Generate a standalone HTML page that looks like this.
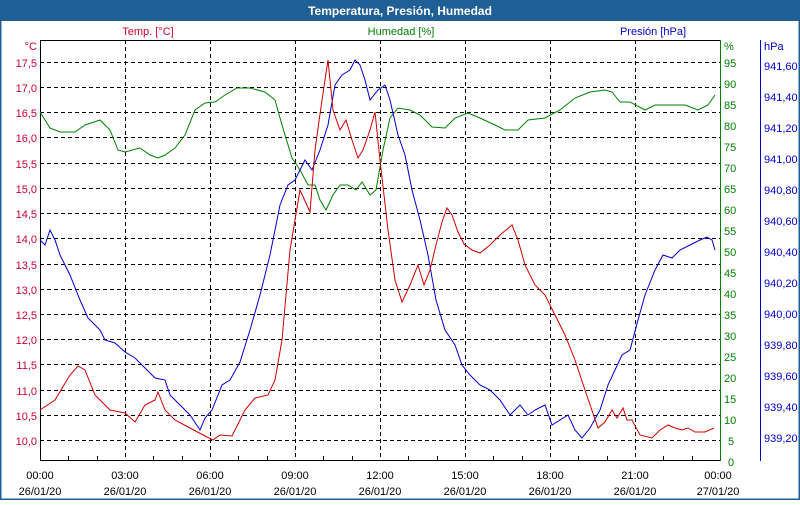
<!DOCTYPE html><html><head><meta charset="utf-8"><style>
body{margin:0;width:800px;height:500px;overflow:hidden;background:#fff;font-family:"Liberation Sans",sans-serif}
</style></head><body>
<svg width="800" height="500" xmlns="http://www.w3.org/2000/svg" font-family="Liberation Sans, sans-serif" font-size="11">
<rect x="0" y="0" width="800" height="500" fill="#fff"/>
<rect x="0.5" y="0.5" width="799" height="499" fill="none" stroke="#1f5f96" stroke-width="2"/>
<rect x="0" y="0" width="800" height="21" fill="#1f5f96"/>
<text x="400" y="15" text-anchor="middle" fill="#fff" font-weight="bold" font-size="12">Temperatura, Presión, Humedad</text>
<g stroke="#000" stroke-dasharray="4,3" stroke-width="1">
<line x1="40" x2="720" y1="62.5" y2="62.5"/><line x1="40" x2="720" y1="87.5" y2="87.5"/><line x1="40" x2="720" y1="112.5" y2="112.5"/><line x1="40" x2="720" y1="137.5" y2="137.5"/><line x1="40" x2="720" y1="163.5" y2="163.5"/><line x1="40" x2="720" y1="188.5" y2="188.5"/><line x1="40" x2="720" y1="213.5" y2="213.5"/><line x1="40" x2="720" y1="238.5" y2="238.5"/><line x1="40" x2="720" y1="264.5" y2="264.5"/><line x1="40" x2="720" y1="289.5" y2="289.5"/><line x1="40" x2="720" y1="314.5" y2="314.5"/><line x1="40" x2="720" y1="339.5" y2="339.5"/><line x1="40" x2="720" y1="364.5" y2="364.5"/><line x1="40" x2="720" y1="390.5" y2="390.5"/><line x1="40" x2="720" y1="415.5" y2="415.5"/><line x1="40" x2="720" y1="440.5" y2="440.5"/>
<line x1="125.5" x2="125.5" y1="40" y2="461"/><line x1="210.5" x2="210.5" y1="40" y2="461"/><line x1="295.5" x2="295.5" y1="40" y2="461"/><line x1="380.5" x2="380.5" y1="40" y2="461"/><line x1="465.5" x2="465.5" y1="40" y2="461"/><line x1="550.5" x2="550.5" y1="40" y2="461"/><line x1="635.5" x2="635.5" y1="40" y2="461"/>
</g>
<line x1="40" x2="720" y1="40.5" y2="40.5" stroke="#000"/>
<line x1="40.5" x2="40.5" y1="40" y2="461" stroke="#000"/>
<line x1="40" x2="720" y1="460.5" y2="460.5" stroke="#000"/>
<line x1="720.5" x2="720.5" y1="40" y2="461" stroke="#008000"/>
<line x1="760.5" x2="760.5" y1="40" y2="461" stroke="#0000cc"/>
<g stroke="#000"><line x1="68.5" x2="68.5" y1="456" y2="461"/><line x1="97.5" x2="97.5" y1="456" y2="461"/><line x1="153.5" x2="153.5" y1="456" y2="461"/><line x1="182.5" x2="182.5" y1="456" y2="461"/><line x1="238.5" x2="238.5" y1="456" y2="461"/><line x1="267.5" x2="267.5" y1="456" y2="461"/><line x1="323.5" x2="323.5" y1="456" y2="461"/><line x1="352.5" x2="352.5" y1="456" y2="461"/><line x1="408.5" x2="408.5" y1="456" y2="461"/><line x1="437.5" x2="437.5" y1="456" y2="461"/><line x1="493.5" x2="493.5" y1="456" y2="461"/><line x1="522.5" x2="522.5" y1="456" y2="461"/><line x1="578.5" x2="578.5" y1="456" y2="461"/><line x1="607.5" x2="607.5" y1="456" y2="461"/><line x1="663.5" x2="663.5" y1="456" y2="461"/><line x1="692.5" x2="692.5" y1="456" y2="461"/></g>
<g fill="#cc0033" text-anchor="end">
<text x="37" y="50">°C</text><text x="37" y="67">17,5</text><text x="37" y="92">17,0</text><text x="37" y="117">16,5</text><text x="37" y="142">16,0</text><text x="37" y="168">15,5</text><text x="37" y="193">15,0</text><text x="37" y="218">14,5</text><text x="37" y="243">14,0</text><text x="37" y="269">13,5</text><text x="37" y="294">13,0</text><text x="37" y="319">12,5</text><text x="37" y="344">12,0</text><text x="37" y="369">11,5</text><text x="37" y="395">11,0</text><text x="37" y="420">10,5</text><text x="37" y="445">10,0</text>
</g>
<text x="148" y="35" fill="#cc0033" text-anchor="middle">Temp. [°C]</text>
<text x="401" y="35" fill="#008000" text-anchor="middle">Humedad [%]</text>
<text x="653" y="35" fill="#0000cc" text-anchor="middle">Presión [hPa]</text>
<g fill="#008000">
<text x="724" y="50">%</text><text x="724" y="67">95</text><text x="724" y="88">90</text><text x="724" y="109">85</text><text x="724" y="130">80</text><text x="724" y="151">75</text><text x="724" y="172">70</text><text x="724" y="193">65</text><text x="724" y="214">60</text><text x="724" y="235">55</text><text x="724" y="256">50</text><text x="724" y="277">45</text><text x="724" y="298">40</text><text x="724" y="319">35</text><text x="724" y="340">30</text><text x="724" y="361">25</text><text x="724" y="382">20</text><text x="724" y="403">15</text><text x="724" y="424">10</text><text x="728" y="445">5</text><text x="728" y="466">0</text>
</g>
<g fill="#0000cc">
<text x="764" y="50">hPa</text><text x="764" y="70">941,60</text><text x="764" y="101">941,40</text><text x="764" y="132">941,20</text><text x="764" y="163">941,00</text><text x="764" y="194">940,80</text><text x="764" y="225">940,60</text><text x="764" y="256">940,40</text><text x="764" y="287">940,20</text><text x="764" y="318">940,00</text><text x="764" y="349">939,80</text><text x="764" y="380">939,60</text><text x="764" y="411">939,40</text><text x="764" y="442">939,20</text>
</g>
<g text-anchor="middle" fill="#000">
<text x="40" y="479">00:00</text><text x="40" y="495">26/01/20</text>
<text x="125" y="479">03:00</text><text x="125" y="495">26/01/20</text>
<text x="210" y="479">06:00</text><text x="210" y="495">26/01/20</text>
<text x="295" y="479">09:00</text><text x="295" y="495">26/01/20</text>
<text x="380" y="479">12:00</text><text x="380" y="495">26/01/20</text>
<text x="465" y="479">15:00</text><text x="465" y="495">26/01/20</text>
<text x="550" y="479">18:00</text><text x="550" y="495">26/01/20</text>
<text x="635" y="479">21:00</text><text x="635" y="495">26/01/20</text>
<text x="718" y="479">00:00</text><text x="718" y="495">27/01/20</text>
</g>
<polyline fill="none" stroke="#008000" stroke-width="1" points="40,112 50,128 60,132 75,132 85,125 100,120 110,130 118,150 125,152 140,148 150,155 158,158 165,155 175,148 185,135 195,110 205,103 215,102 225,95 237,88 250,88 265,92 275,100 282,125 292,158 300,170 308,185 315,185 320,200 326,210 333,195 340,185 348,185 356,190 362,182 370,195 376,190 383,150 390,118 398,108 410,110 420,115 432,127 445,128 455,118 468,113 480,118 495,125 505,130 518,130 528,120 545,118 560,110 575,98 590,92 605,90 612,92 620,102 630,102 645,110 655,105 670,105 685,105 698,110 708,105 715,95"/>
<polyline fill="none" stroke="#0000cc" stroke-width="1" points="40,240 45,245 50,230 55,240 60,255 70,275 80,300 88,318 95,325 100,330 105,340 115,343 125,352 135,358 145,368 155,378 165,380 170,395 180,405 190,415 200,430 205,418 212,410 222,385 230,380 240,362 250,330 260,295 270,255 280,205 288,185 295,180 300,170 305,160 312,170 320,150 328,125 335,85 342,75 350,70 355,60 360,65 365,80 370,100 378,90 385,85 390,100 398,135 405,155 412,190 420,220 428,255 436,300 445,330 455,345 462,365 470,375 480,385 490,390 500,400 510,415 520,405 528,415 535,410 545,405 552,425 560,420 568,415 575,430 582,438 590,428 600,410 608,385 615,370 622,355 630,350 638,320 645,295 655,270 663,255 672,258 680,250 690,245 700,240 707,237 712,240 715,250"/>
<polyline fill="none" stroke="#cc0000" stroke-width="1" points="40,410 55,400 70,375 78,366 85,370 95,395 110,410 125,413 135,422 145,405 155,400 158,392 165,410 175,420 190,428 205,436 213,440 220,435 232,436 245,410 255,398 268,395 275,380 282,340 290,250 300,190 310,212 315,150 322,100 328,60 333,110 340,130 346,120 352,140 358,158 363,150 370,130 375,112 380,160 388,230 395,280 402,302 410,285 418,265 424,285 430,270 436,245 442,222 447,208 452,215 458,232 464,244 472,250 480,253 490,245 500,235 512,225 518,240 525,265 535,285 545,295 555,315 565,335 575,360 585,390 598,428 605,422 612,410 617,418 623,408 627,420 632,420 640,435 652,438 660,430 668,425 675,428 682,430 688,428 695,432 705,432 714,428"/>
</svg>
</body></html>
